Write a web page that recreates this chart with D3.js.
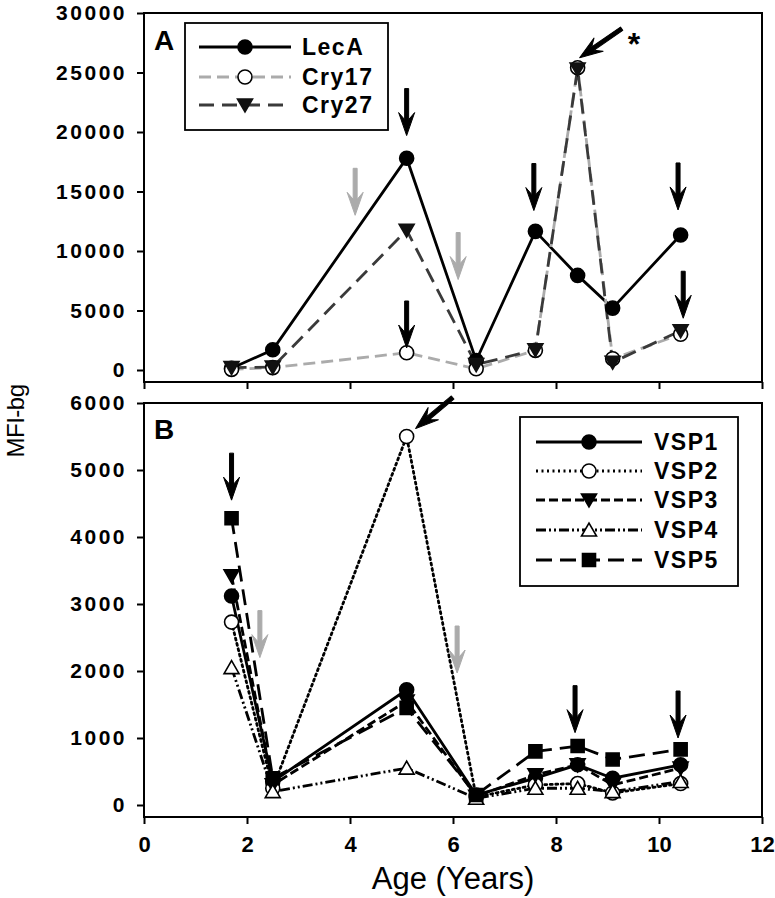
<!DOCTYPE html>
<html><head><meta charset="utf-8">
<script src="https://cdn.jsdelivr.net/npm/d3@7"></script>
<style>
body{margin:0;background:#fff}
svg{display:block}
text{font-family:"Liberation Sans",Arial,sans-serif}
</style>
</head><body>
<svg id="c" width="775" height="898"></svg>
<script>
// ---------- data ----------
const ages = [1.7, 2.5, 5.1, 6.45, 7.6, 8.42, 9.1, 10.42];

const lecA  = [150, 1700, 17800, 800, 11650, 7950, 5200, 11350];
const cry17 = [50, 200, 1450, 100, 1650, 25400, 950, 3000];
const cry27 = [200, 250, 11750, 450, 1700, 25300, 650, 3300];

const vsp1 = [3120, 350, 1720, 150, 400, 600, 400, 600];
const vsp2 = [2730, 250, 5500, 120, 300, 320, 180, 320];
const vsp3 = [3420, 300, 1550, 130, 450, 600, 300, 550];
const vsp4 = [2050, 200, 550, 100, 250, 250, 200, 350];
const vsp5 = [4280, 400, 1450, 150, 800, 880, 680, 830];

const seriesA = ["LecA", "Cry17", "Cry27"];
const seriesB = ["VSP1", "VSP2", "VSP3", "VSP4", "VSP5"];

const ticksA = [0, 5000, 10000, 15000, 20000, 25000, 30000];
const ticksB = [0, 1000, 2000, 3000, 4000, 5000, 6000];
const ticksX = [0, 2, 4, 6, 8, 10, 12];

// annotation arrows: [age, tip value, kind]
const arrowsA = [[5.1, 19700, "k"], [4.1, 13000, "g"], [6.1, 7600, "g"], [7.57, 13400, "k"],
                 [10.37, 13450, "k"], [5.1, 1850, "k"], [10.47, 4350, "k"]];
const arrowsB = [[1.7, 4550, "k"], [2.25, 2200, "g"], [6.08, 1970, "g"], [8.37, 1080, "k"], [10.37, 1000, "k"]];

// ---------- setup ----------
const svg = d3.select("#c");
const x = d3.scaleLinear().domain([0, 12]).range([144, 762]);
const yA = d3.scaleLinear().domain([0, 30000]).range([370, 13]);
const yB = d3.scaleLinear().domain([0, 6000]).range([805, 403]);

const frameA = {top: 13, bottom: 382};
const frameB = {top: 403, bottom: 817};

const styles = {
  LecA:  {color: "#000", dash: null, marker: "circle", fill: "#000", mstroke: "#000"},
  Cry17: {color: "#ababab", dash: "12,6", marker: "circle", fill: "#fff", mstroke: "#000"},
  Cry27: {color: "#3a3a3a", dash: "15,8", marker: "tridown", fill: "#111", mstroke: "#111"},
  VSP1: {color: "#000", dash: null, marker: "circle", fill: "#000", mstroke: "#000"},
  VSP2: {color: "#000", dash: "2,3.5", marker: "circle", fill: "#fff", mstroke: "#000"},
  VSP3: {color: "#000", dash: "9,4", marker: "tridown", fill: "#000", mstroke: "#000"},
  VSP4: {color: "#000", dash: "10,3,2,3,2,3", marker: "triup", fill: "#fff", mstroke: "#000"},
  VSP5: {color: "#000", dash: "16,8", marker: "square", fill: "#000", mstroke: "#000"}
};
const valuesOf = {LecA: lecA, Cry17: cry17, Cry27: cry27, VSP1: vsp1, VSP2: vsp2, VSP3: vsp3, VSP4: vsp4, VSP5: vsp5};

function markerPath(type) {
  const s = 7;
  if (type === "circle") return d3.symbol(d3.symbolCircle, Math.PI * s * s)();
  if (type === "square") return `M${-6.5},${-6.5}h13v13h-13Z`;
  if (type === "tridown") return `M${-7.5},${-6}L${7.5},${-6}L0,${7}Z`;
  if (type === "triup") return `M${-7.5},${6}L${7.5},${6}L0,${-7}Z`;
}
function drawMarker(g, type, cx, cy, st) {
  g.append("path").attr("d", markerPath(type)).attr("transform", `translate(${cx},${cy})`)
    .attr("fill", st.fill).attr("stroke", st.mstroke).attr("stroke-width", 1.6);
}

function drawArrow(g, x0, y0, x1, y1, color) {
  // tail (x0,y0) -> tip (x1,y1)
  const ang = Math.atan2(y1 - y0, x1 - x0) * 180 / Math.PI;
  const L = Math.hypot(x1 - x0, y1 - y0);
  const a = g.append("g").attr("transform", `translate(${x1},${y1}) rotate(${ang})`);
  a.append("path")
    .attr("d", `M${-L},-2 L-16,-2 L-23,-8 L0,0 L-23,8 L-16,2 L${-L},2 Z`)
    .attr("fill", color).attr("stroke", color).attr("stroke-width", 1).attr("stroke-linejoin", "round");
}

function panel(series, y, frame, ticks, isBottom) {
  const g = svg.append("g");
  // frame
  g.append("rect").attr("x", x(0)).attr("y", frame.top).attr("width", x(12) - x(0)).attr("height", frame.bottom - frame.top)
    .attr("fill", "none").attr("stroke", "#000").attr("stroke-width", 2);
  // y axis
  const ya = g.append("g").attr("transform", `translate(${x(0)},0)`)
    .call(d3.axisLeft(y).tickValues(ticks).tickSize(7).tickPadding(10).tickFormat(d3.format("d")));
  ya.select(".domain").remove();
  ya.selectAll("line").attr("stroke-width", 2);
  ya.selectAll("text").attr("font-size", 21).attr("font-weight", "bold").attr("letter-spacing", 2.5).attr("fill", "#000");
  // x axis
  const xa = g.append("g").attr("transform", `translate(0,${frame.bottom})`)
    .call(d3.axisBottom(x).tickValues(ticksX).tickSize(7).tickPadding(12).tickFormat(isBottom ? d3.format("d") : () => ""));
  xa.select(".domain").remove();
  xa.selectAll("line").attr("stroke-width", 2);
  xa.selectAll("text").attr("font-size", 22).attr("font-weight", "bold").attr("fill", "#000");
  // lines
  const line = d3.line().x((d, i) => x(ages[i])).y(d => y(d));
  series.forEach(name => {
    const st = styles[name];
    g.append("path").datum(valuesOf[name]).attr("d", line).attr("fill", "none")
      .attr("stroke", st.color).attr("stroke-width", 2.8).attr("stroke-dasharray", st.dash)
      .attr("stroke-linecap", st.dash && st.dash.startsWith("2,") ? "round" : "butt");
  });
  series.forEach(name => {
    const st = styles[name];
    valuesOf[name].forEach((v, i) => drawMarker(g, st.marker, x(ages[i]), y(v), st));
  });
  return g;
}

const gA = panel(seriesA, yA, frameA, ticksA, false);
const gB = panel(seriesB, yB, frameB, ticksB, true);

// arrows
arrowsA.forEach(([a, v, k]) => drawArrow(gA, x(a), yA(v) - 47, x(a), yA(v), k === "g" ? "#ababab" : "#000"));
arrowsB.forEach(([a, v, k]) => drawArrow(gB, x(a), yB(v) - 47, x(a), yB(v), k === "g" ? "#ababab" : "#000"));
// diagonal arrows pointing at the peaks
drawArrow(gA, x(ages[5]) + 44, yA(cry17[5]) - 39, x(ages[5]) + 2, yA(cry17[5]) - 10, "#000");
gA.append("text").attr("x", x(ages[5]) + 50).attr("y", yA(cry17[5]) - 13).attr("font-size", 32).attr("font-weight", "bold").text("*");
drawArrow(gB, x(ages[2]) + 46, yB(vsp2[2]) - 39, x(ages[2]) + 9, yB(vsp2[2]) - 8, "#000");

// panel letters
svg.append("text").attr("x", 154).attr("y", 50).attr("font-size", 28).attr("font-weight", "bold").text("A");
svg.append("text").attr("x", 154).attr("y", 439).attr("font-size", 28).attr("font-weight", "bold").text("B");

// legends
function legend(series, box, rows, lx0, lx1, tx, fs) {
  const g = svg.append("g");
  g.append("rect").attr("x", box[0]).attr("y", box[1]).attr("width", box[2]).attr("height", box[3])
    .attr("fill", "#fff").attr("stroke", "#000").attr("stroke-width", 1.8);
  series.forEach((name, i) => {
    const st = styles[name];
    const yy = rows[i];
    g.append("line").attr("x1", lx0).attr("x2", lx1).attr("y1", yy).attr("y2", yy)
      .attr("stroke", st.color).attr("stroke-width", 2.8).attr("stroke-dasharray", st.dash);
    drawMarker(g, st.marker, (lx0 + lx1) / 2, yy, st);
    g.append("text").attr("x", tx).attr("y", yy).attr("dy", "0.36em").attr("font-size", fs)
      .attr("font-weight", "bold").attr("letter-spacing", 1.5).text(name);
  });
}
legend(seriesA, [185, 23, 203, 107], [47, 77, 105], 199, 291, 302, 23);
legend(seriesB, [520, 417, 218, 169], [442, 471, 500, 530, 560], 536, 642, 654, 23);

// axis titles
svg.append("text").attr("transform", "translate(24,421) rotate(-90)").attr("text-anchor", "middle")
  .attr("font-size", 24).attr("letter-spacing", -0.5).text("MFI-bg");
svg.append("text").attr("x", x(6)).attr("y", 889).attr("text-anchor", "middle").attr("font-size", 31).text("Age (Years)");
</script>
</body></html>
